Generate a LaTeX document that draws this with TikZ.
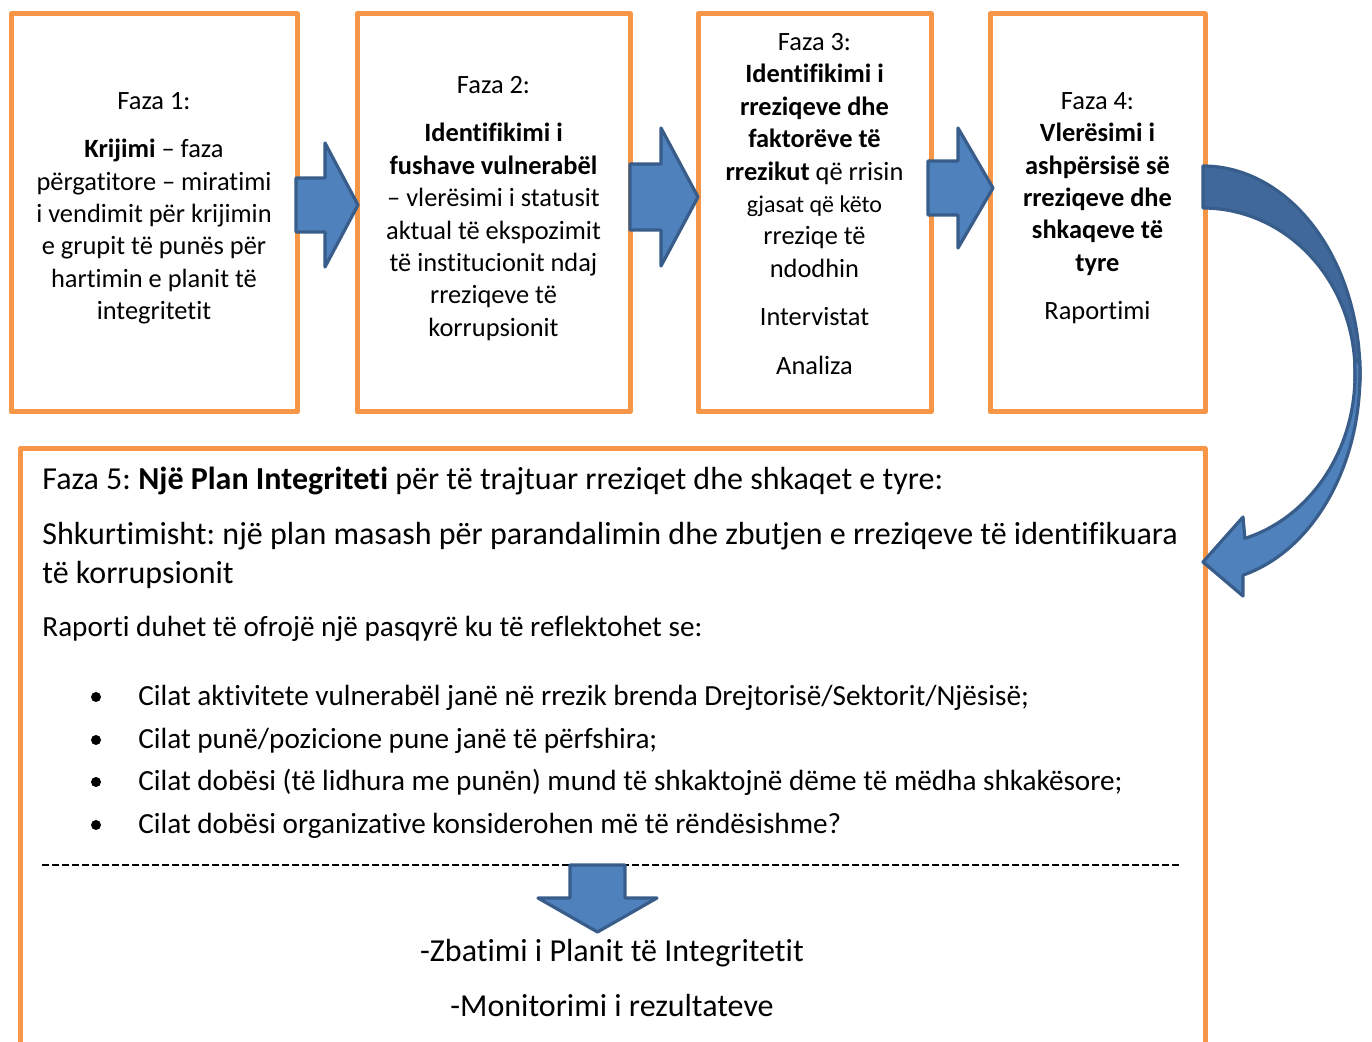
\documentclass[tikz,border=0pt]{standalone}
\usepackage{fontspec}
\setmainfont{Carlito}[Ligatures=CommonOff]
\usepackage{tikz}
\usetikzlibrary{calc}
\definecolor{phaseorange}{RGB}{247,150,70}
\definecolor{arrowblue}{RGB}{79,129,189}
\definecolor{arrowedge}{RGB}{56,93,138}
\definecolor{arrowdark}{RGB}{64,104,154}
\frenchspacing

\newcommand{\phasefont}{\fontsize{13.2}{16.2}\selectfont}
\newcommand{\planfont}{\fontsize{16}{19.5}\selectfont}
\newcommand{\listfont}{\fontsize{14.6}{17.8}\selectfont}

% right block arrow: start x, head base x, tip x, centre y, shaft half, head half
\newcommand{\rightblock}[6]{%
  \draw[blockarrow] (#1,#4-#5) -- (#2,#4-#5) -- (#2,#4-#6) -- (#3,#4)
    -- (#2,#4+#6) -- (#2,#4+#5) -- (#1,#4+#5) -- cycle;}

\begin{document}
\begin{tikzpicture}[x=0.5pt,y=-0.5pt,
  phase/.style={draw=phaseorange, line width=2.5pt, rectangle, line join=round, inner sep=0pt},
  phasetext/.style={anchor=north, align=center, inner sep=0pt, font=\phasefont},
  plantext/.style={anchor=base west, inner sep=0pt, font=\planfont},
  listtext/.style={anchor=base west, inner sep=0pt, font=\listfont},
  bulletdot/.style={circle, fill=black, inner sep=0pt, minimum size=5pt},
  blockarrow/.style={fill=arrowblue, draw=arrowedge, line width=1.6pt, line join=round}]
  \useasboundingbox (0,0) rectangle (1372,1042);
  \clip (0,0) rectangle (1372,1042);

  % the four phase boxes
  \node[phase, minimum width=143pt, minimum height=199pt] (f1) at (154,213) {};
  \node[phase, minimum width=136.5pt, minimum height=199pt] (f2) at (493.5,213) {};
  \node[phase, minimum width=116.5pt, minimum height=199pt] (f3) at (814.5,213) {};
  \node[phase, minimum width=107.5pt, minimum height=199pt] (f4) at (1097.5,213) {};
  \node[phase, minimum width=592.5pt, minimum height=306.5pt] (f5) at (612.5,755.5) {};

  \node[phasetext] (t1) at (154,92) {Faza 1:\\[8pt]
    \textbf{Krijimi} – faza\\
    përgatitore – miratimi\\
    i vendimit për krijimin\\
    e grupit të punës për\\
    hartimin e planit të\\
    integritetit};
  \node[phasetext] (t2) at (493.5,76) {Faza 2:\\[8pt]
    \textbf{Identifikimi i}\\
    \textbf{fushave vulnerabël}\\
    – vlerësimi i statusit\\
    aktual të ekspozimit\\
    të institucionit ndaj\\
    rreziqeve të\\
    korrupsionit};
  \node[phasetext] (t3) at (814.5,33) {Faza 3:\\
    \textbf{Identifikimi i}\\
    \textbf{rreziqeve dhe}\\
    \textbf{faktorëve të}\\
    \textbf{rrezikut} që rrisin\\
    {\fontsize{12}{16.2}\selectfont gjasat që këto}\\
    rreziqe të\\
    ndodhin\\[8pt]
    Intervistat\\[8pt]
    Analiza};
  \node[phasetext] (t4) at (1097.5,92) {Faza 4:\\
    \textbf{Vlerësimi i}\\
    \textbf{ashpërsisë së}\\
    \textbf{rreziqeve dhe}\\
    \textbf{shkaqeve të}\\
    \textbf{tyre}\\[8pt]
    Raportimi};

  % arrows between the phases
  \rightblock{296}{325}{358}{205}{27}{62}
  \rightblock{630}{661}{698}{197}{33}{69}
  \rightblock{928}{958}{993}{188}{27}{60}

  % curved arrow from phase 4 down to phase 5
  \coordinate (loop) at (1203,374);
  \draw[blockarrow, fill=arrowdark] (1203,166)
    arc[start angle=-90, end angle=3, x radius=157, y radius=208]
    -- (1354.8,380.6)
    arc[start angle=3, end angle=-90, x radius=152, y radius=164] -- cycle;
  \draw[blockarrow] (1359.6,359.5)
    arc[start angle=-4, end angle=75.2, x radius=157, y radius=208]
    -- (1243,596) -- (1203,562) -- (1243,517) -- (1244.9,538.4)
    arc[start angle=74, end angle=-4, x radius=152, y radius=170] -- cycle;

  % phase 5 text
  \node[plantext] (p1) at (42,490) {Faza 5: \textbf{Një Plan Integriteti} për të trajtuar rreziqet dhe shkaqet e tyre:};
  \node[plantext] (p2) at (42,545) {Shkurtimisht: një plan masash për parandalimin dhe zbutjen e rreziqeve të identifikuara};
  \node[plantext] (p3) at (42,584) {të korrupsionit};
  \node[listtext] (p4) at (42,637) {Raporti duhet të ofrojë një pasqyrë ku të reflektohet se:};

  \node[bulletdot] (b1) at (96,697) {};
  \node[bulletdot] (b2) at (96,740) {};
  \node[bulletdot] (b3) at (96,782) {};
  \node[bulletdot] (b4) at (96,825) {};
  \node[listtext] (q1) at (138,706) {Cilat aktivitete vulnerabël janë në rrezik brenda Drejtorisë/Sektorit/Njësisë;};
  \node[listtext] (q2) at (138,749) {Cilat punë/pozicione pune janë të përfshira;};
  \node[listtext] (q3) at (138,791) {Cilat dobësi (të lidhura me punën) mund të shkaktojnë dëme të mëdha shkakësore;};
  \node[listtext] (q4) at (138,834) {Cilat dobësi organizative konsiderohen më të rëndësishme?};

  % separator and arrow down
  \coordinate (sepl) at (42,865);
  \coordinate (sepr) at (1182,865);
  \draw[line width=0.7pt, dash pattern=on 3.5pt off 1.5pt] (sepl) -- (sepr);
  \draw[blockarrow] (570,865) -- (625,865) -- (625,898) -- (657,898)
    -- (597.5,932) -- (538,898) -- (570,898) -- cycle;

  \node[plantext, anchor=base] (r1) at (612,961) {-Zbatimi i Planit të Integritetit};
  \node[plantext, anchor=base] (r2) at (612,1016) {-Monitorimi i rezultateve};
\end{tikzpicture}
\end{document}
